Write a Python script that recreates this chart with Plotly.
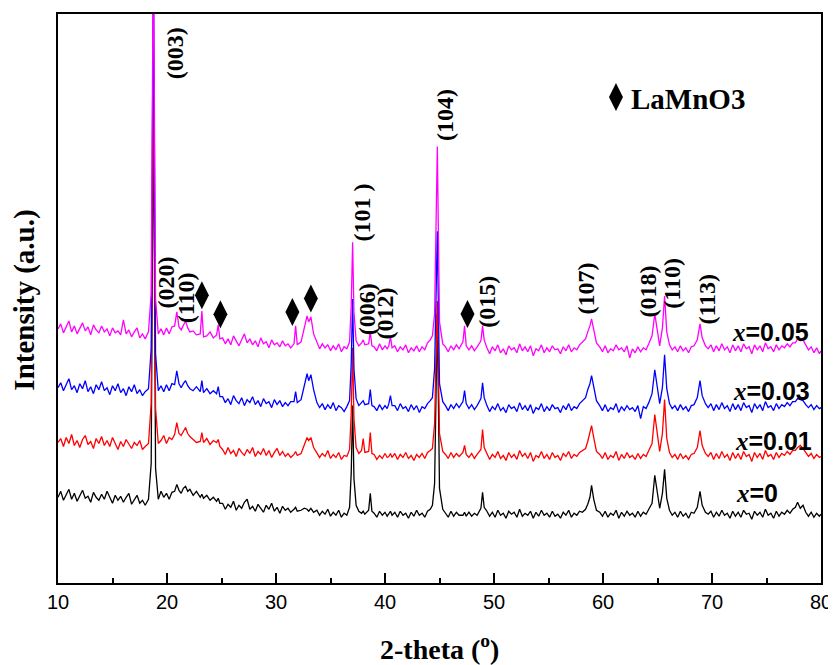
import plotly.graph_objects as go

# ---- data (2-theta in degrees, intensity in a.u. with stacking offsets) ----
two_theta = [
    10.0, 10.25, 10.5, 10.75, 11.0, 11.25, 11.5, 11.75, 12.0, 12.25, 12.5, 12.75, 13.0, 13.25, 13.5, 13.75,
    14.0, 14.25, 14.5, 14.75, 15.0, 15.25, 15.5, 15.75, 16.0, 16.25, 16.5, 16.75, 17.0, 17.25, 17.5, 17.75, 18.0,
    18.3, 18.55, 18.75, 18.95, 19.2,
    19.45, 19.7, 19.95, 20.2, 20.45,
    20.7, 20.9, 21.1,
    21.3, 21.5, 21.7, 21.9, 22.1,
    22.4, 22.7,
    23.05, 23.2, 23.35,
    23.65, 23.95, 24.25,
    24.55, 24.7, 24.85,
    25.1, 25.35, 25.6, 25.85, 26.1, 26.35, 26.6, 26.85, 27.1, 27.35, 27.6, 27.85, 28.1,
    28.35, 28.6, 28.85, 29.1, 29.35, 29.6, 29.85, 30.1, 30.35, 30.6, 30.85, 31.1, 31.35,
    31.65, 31.8, 31.95,
    32.3, 32.6, 32.85, 33.0, 33.2, 33.45,
    33.75, 34.0, 34.25, 34.5, 34.75, 35.0, 35.25, 35.5, 35.75, 36.0, 36.25, 36.5,
    36.75, 36.9, 37.03, 37.15, 37.35,
    37.6, 37.85, 38.0, 38.15,
    38.5, 38.65, 38.8,
    39.0, 39.25, 39.5, 39.75, 40.0, 40.2,
    40.35, 40.5, 40.65,
    40.9, 41.15, 41.4, 41.65, 41.9, 42.15, 42.4, 42.65, 42.9, 43.15, 43.4, 43.65, 43.9, 44.15,
    44.35, 44.55, 44.8, 45.0, 45.3,
    45.55, 45.8, 46.05, 46.3, 46.55, 46.8,
    47.15, 47.3, 47.45,
    47.7, 47.95, 48.2, 48.45,
    48.8, 48.95, 49.1,
    49.35, 49.6, 49.85, 50.1, 50.35, 50.6, 50.85, 51.1, 51.35, 51.6, 51.85, 52.1, 52.35, 52.6, 52.85, 53.1, 53.35, 53.6,
    53.85, 54.1, 54.35, 54.6, 54.85, 55.1, 55.35, 55.6, 55.85, 56.1, 56.35, 56.6, 56.85, 57.1, 57.35, 57.6, 57.85, 58.1,
    58.4, 58.6, 58.8, 58.95, 59.15, 59.4,
    59.7, 59.95, 60.2, 60.45, 60.7, 60.95, 61.2, 61.45, 61.7, 61.95, 62.2, 62.45, 62.7, 62.95, 63.2, 63.45, 63.7, 63.95, 64.2,
    64.5, 64.75, 65.0, 65.2, 65.45, 65.65, 65.85,
    66.1, 66.35, 66.6, 66.85, 67.1, 67.35, 67.6, 67.85, 68.1, 68.35,
    68.65, 68.9, 69.1, 69.4,
    69.65, 69.9, 70.15, 70.4, 70.65, 70.9, 71.15, 71.4, 71.65, 71.9, 72.15, 72.4, 72.65, 72.9, 73.15, 73.4,
    73.65, 73.9, 74.15, 74.4, 74.65, 74.9, 75.15, 75.4, 75.65, 75.9, 76.15, 76.4, 76.65, 76.9, 77.15, 77.4,
    77.65, 77.85, 78.1, 78.35, 78.6,
    78.85, 79.1, 79.35, 79.6, 79.85, 80.0,
]

int_x0 = [
    86, 92, 83, 89, 94, 84, 90, 82, 88, 93, 85, 87, 81, 91, 86, 83,
    89, 84, 92, 85, 80, 88, 83, 87, 81, 86, 90, 79, 84, 88, 80, 83, 78,
    84, 120, 500, 115, 84,
    92, 86, 90, 84, 91,
    92, 99, 93,
    90, 95, 97, 92, 94,
    88, 92,
    86, 89, 85,
    88, 83, 86,
    82, 85, 80,
    80, 74, 79, 76, 82, 73, 78, 75, 81, 84, 74, 77, 72,
    79, 75, 71, 78, 74, 80, 72, 76, 70, 77, 73, 75, 71,
    74, 76, 72,
    73, 75, 74, 72, 75, 71,
    73, 68, 72, 69, 74, 67, 71, 68, 73, 66, 70, 68,
    76, 110, 178, 105, 78,
    72, 70, 72, 69,
    73, 90, 72,
    70, 66, 72, 68, 71, 67,
    70, 72, 68,
    71, 66, 72, 68, 70, 65, 71, 67, 73, 68, 70, 66, 72, 74,
    78, 100, 270, 95, 74,
    70, 66, 72, 67, 71, 68,
    68, 71, 67,
    71, 67, 70, 68,
    75, 91, 76,
    72, 67, 71, 66, 73, 68, 70, 65, 72, 69, 71, 66, 74, 67, 70, 68, 72, 65,
    71, 67, 73, 68, 70, 66, 72, 67, 69, 65, 71, 68, 73, 66, 70, 68, 72, 71,
    74, 79, 86, 98, 84, 73,
    71, 67, 72, 66, 70, 68, 73, 65, 71, 67, 72, 68, 70, 66, 72, 67, 71, 69, 74,
    80, 108, 88, 75, 90, 114, 85,
    73, 68, 71, 66, 72, 67, 70, 65, 71, 70,
    76, 92, 78, 71,
    69, 72, 66, 71, 67, 73, 68, 70, 65, 72, 67, 71, 66, 73, 69, 70,
    64, 72, 68, 71, 66, 74, 68, 70, 65, 72, 67, 71, 69, 73, 70, 74,
    76, 81, 75, 78, 71,
    67, 71, 66, 70, 67, 69,
]

int_x001 = [
    141, 145, 137, 146, 140, 149, 138, 143, 136, 144, 148, 139, 142, 135, 145, 140,
    147, 138, 143, 137, 146, 139, 134, 142, 137, 144, 140, 135, 141, 138, 143, 134, 137,
    140, 180, 540, 175, 140,
    143, 148, 140, 146, 144,
    149, 161, 150,
    148, 152, 156, 150, 147,
    144, 141,
    142, 151, 141,
    145, 139, 143,
    141, 144, 137,
    134, 129, 136, 130, 133, 127, 135, 131, 128, 134, 130, 136, 127,
    132, 129, 135, 128, 133, 126, 131, 135, 128, 132, 127, 130, 126,
    129, 132, 128,
    130, 138, 146, 143, 146, 136,
    131, 126, 130, 127, 133, 125, 129, 126, 131, 124, 128, 127,
    134, 170, 236, 165, 136,
    130, 133, 145, 131,
    132, 151, 130,
    129, 124, 128, 125, 130, 126,
    127, 130, 126,
    130, 124, 129, 126, 131, 125, 128, 123, 129, 126, 130, 125, 131, 133,
    135, 160, 283, 150, 132,
    129, 125, 131, 126, 130, 127,
    131, 138, 129,
    126, 130, 125, 129,
    134, 154, 136,
    130, 124, 129, 126, 132, 125, 128, 123, 131, 126, 129, 124, 133, 127, 130, 125, 131, 122,
    128, 126, 132, 125, 129, 124, 131, 126, 128, 123, 130, 127, 132, 125, 129, 127, 131, 133,
    135, 142, 150, 158, 146, 132,
    129, 125, 131, 124, 128, 126, 132, 123, 129, 125, 131, 126, 128, 124, 130, 125, 129, 127, 133,
    140, 169, 145, 132, 150, 184, 145,
    131, 126, 129, 124, 130, 125, 128, 124, 129, 130,
    136, 153, 138, 130,
    127, 131, 124, 130, 125, 132, 126, 129, 123, 131, 125, 130, 124, 132, 127, 129,
    122, 131, 126, 130, 124, 133, 127, 129, 124, 131, 126, 130, 128, 132, 129, 133,
    133, 136, 138, 135, 131,
    127, 130, 125, 129, 126, 127,
]

int_x003 = [
    196, 201, 193, 199, 205, 194, 198, 191, 200, 195, 203, 192, 197, 190, 199, 194,
    202, 193, 196, 189, 198, 193, 200, 191, 195, 188, 197, 192, 199, 190, 194, 188, 192,
    195, 235, 620, 230, 193,
    198, 192, 199, 193, 200,
    199, 213, 200,
    196, 200, 203, 198, 195,
    193, 197,
    192, 203, 191,
    195, 190, 193,
    190, 197, 187,
    187, 181, 185, 179, 188, 183, 180, 186, 178, 184, 181, 187, 179,
    183, 177, 185, 180, 182, 176, 184, 179, 183, 177, 181, 178, 182,
    182, 192, 181,
    184, 198, 210, 203, 209, 194,
    181, 176, 180, 174, 179, 175, 181, 173, 178, 176, 172, 177,
    183, 220, 285, 215, 185,
    178, 181, 183, 179,
    180, 194, 178,
    177, 173, 179, 174, 178, 175,
    180, 188, 178,
    178, 173, 180, 175, 177, 172, 179, 174, 178, 171, 177, 175, 180, 183,
    186, 215, 353, 200, 182,
    178, 173, 179, 175, 180, 176,
    182, 193, 180,
    175, 179, 174, 178,
    185, 201, 186,
    178, 172, 177, 174, 180, 173, 176, 171, 179, 175, 177, 172, 181, 174, 178, 173, 179, 170,
    176, 174, 180, 172, 177, 173, 179, 175, 176, 171, 178, 174, 180, 173, 177, 175, 180, 183,
    186, 194, 200, 208, 196, 183,
    178, 173, 179, 172, 176, 174, 180, 171, 177, 173, 178, 174, 176, 172, 178, 165, 177, 175, 181,
    190, 214, 192, 180, 196, 229, 195,
    180, 175, 178, 173, 179, 174, 177, 172, 178, 179,
    186, 203, 188, 180,
    176, 180, 173, 179, 174, 181, 175, 178, 172, 180, 174, 179, 173, 181, 176, 178,
    171, 180, 175, 179, 173, 182, 176, 178, 173, 180, 175, 179, 177, 181, 178, 182,
    182, 185, 184, 183, 179,
    176, 179, 174, 178, 175, 176,
]

int_x005 = [
    255, 260, 251, 257, 263, 252, 258, 250, 256, 261, 253, 257, 249, 259, 254, 251,
    258, 252, 255, 248, 256, 251, 253, 249, 264, 250, 254, 247, 252, 256, 246, 250, 245,
    252, 290, 650, 285, 250,
    255, 249, 256, 250, 257,
    258, 272, 257,
    254, 258, 263, 256, 252,
    253, 249,
    250, 273, 247,
    248, 252, 246,
    249, 259, 245,
    246, 240, 245, 239, 248, 243, 238, 244, 250, 241, 245, 239, 243,
    237, 246, 240, 242, 236, 244, 239, 241, 237, 243, 238, 240, 236,
    240, 258, 239,
    242, 256, 268, 262, 267, 250,
    241, 235, 240, 236, 239, 233, 238, 234, 240, 232, 237, 235,
    242, 278, 342, 272, 243,
    238, 241, 244, 239,
    240, 252, 238,
    237, 233, 240, 234, 238, 235,
    238, 247, 236,
    238, 232, 237, 234, 239, 231, 236, 233, 238, 232, 237, 234, 241, 244,
    248, 270, 438, 262, 240,
    237, 232, 238, 234, 239, 235,
    242, 258, 238,
    234, 238, 233, 237,
    243, 258, 244,
    236, 230, 237, 233, 239, 231, 235, 229, 238, 234, 236, 231, 240, 233, 237, 232, 238, 228,
    235, 233, 239, 231, 236, 232, 238, 234, 235, 230, 237, 233, 239, 232, 236, 234, 239, 242,
    245, 252, 258, 265, 253, 241,
    237, 232, 238, 231, 235, 233, 239, 234, 236, 232, 238, 226, 235, 231, 237, 232, 236, 234, 240,
    248, 270, 250, 238, 256, 288, 252,
    239, 234, 237, 232, 238, 233, 236, 231, 237, 238,
    244, 260, 246, 238,
    235, 239, 232, 238, 233, 240, 234, 237, 231, 239, 233, 238, 232, 240, 235, 237,
    230, 239, 234, 238, 232, 241, 235, 237, 232, 239, 234, 238, 236, 240, 237, 241,
    241, 245, 243, 244, 239,
    234, 237, 231, 236, 230, 233,
]

series_labels = ["x=0", "x=0.01", "x=0.03", "x=0.05"]
series_colors = ["#000000", "#FF0000", "#0000FF", "#FF00FF"]

peak_labels = ["(003)", "(020)", "(110)", "(101 )", "(006)", "(012)",
               "(104)", "(015)", "(107)", "(018)", "(110)", "(113)"]
peak_label_x = [20.75, 19.91, 21.74, 37.88, 38.34, 40.02,
                45.50, 49.40, 58.45, 64.15, 66.37, 69.57]
peak_label_y = [531.7, 301.7, 286.7, 371.7, 274.7, 270.7,
                469.7, 282.7, 295.7, 292.7, 300.7, 284.7]

lamno3_x = [23.2, 24.9, 31.5, 33.2, 47.57]
lamno3_y = [288.7, 269.7, 272.0, 285.4, 270.0]

for arr in (int_x0, int_x001, int_x003, int_x005):
    assert len(arr) == len(two_theta), (len(arr), len(two_theta))

SERIF = "Liberation Serif, Times New Roman, serif"
SANS = "Liberation Sans, Arial, sans-serif"

# page body has an 8px margin: plot box lands at x 58..824, y 12..583
OFF = 8
FIG_W, FIG_H = 836 - OFF, 665 - OFF
ML, MR, MT, MB = 58 - OFF, 12, 12 - OFF, 82
PX0, PY0, PW, PH = 58.3, 582.7, 766, 571


def px_to_paper(px, py):
    return (px - PX0) / PW, (PY0 - py) / PH


fig = go.Figure()
for ys, name, col in zip([int_x0, int_x001, int_x003, int_x005], series_labels, series_colors):
    fig.add_trace(go.Scatter(x=two_theta, y=ys, mode="lines", name=name,
                             line=dict(color=col, width=1.3), showlegend=False))

fig.add_trace(go.Scatter(x=lamno3_x, y=lamno3_y, mode="markers",
                         marker=dict(symbol="diamond-tall", size=20, color="black"),
                         showlegend=False))
# key marker for LaMnO3
fig.add_trace(go.Scatter(x=[61.19], y=[487.7], mode="markers",
                         marker=dict(symbol="diamond-tall", size=20, color="black"),
                         showlegend=False))

annotations = []
for t, x, y in zip(peak_labels, peak_label_x, peak_label_y):
    annotations.append(dict(x=x, y=y, xref="x", yref="y", text=t, textangle=-90,
                            showarrow=False, font=dict(family=SERIF, size=24, color="black", weight="bold")))

ax, ay = px_to_paper(632, 97)
annotations.append(dict(x=ax, y=ay, xref="paper", yref="paper",
                        text="LaMnO3", xanchor="left", yanchor="middle", showarrow=False,
                        font=dict(family=SERIF, size=29, color="black", weight="bold")))

lab_px = [737, 736, 734, 733]
lab_py = [492.7, 440, 390, 330.7]
for name, px, py in zip(series_labels, lab_px, lab_py):
    txt = '<span style="font-family:Liberation Serif;font-style:italic">x</span>' + name[1:]
    ax, ay = px_to_paper(px, py)
    annotations.append(dict(x=ax, y=ay, xref="paper", yref="paper",
                            text=txt, xanchor="left", yanchor="middle", showarrow=False,
                            font=dict(family=SANS, size=25, color="black", weight="bold")))

ax, ay = px_to_paper(441.5, 647)
annotations.append(dict(x=ax, y=ay, xref="paper", yref="paper", borderpad=0,
                        text="2-theta (<sup>o</sup>)", showarrow=False, xanchor="center", yanchor="middle",
                        font=dict(family=SERIF, size=28, color="black", weight="bold")))
ax, ay = px_to_paper(25, 298.5)
annotations.append(dict(x=ax, y=ay, xref="paper", yref="paper", borderpad=0,
                        text="Intensity (a.u.)", textangle=-90, showarrow=False,
                        xanchor="center", yanchor="middle",
                        font=dict(family=SERIF, size=29, color="black", weight="bold")))

fig.update_layout(
    width=FIG_W, height=FIG_H,
    margin=dict(l=ML, r=MR, t=MT, b=MB),
    plot_bgcolor="white", paper_bgcolor="white",
    annotations=annotations,
    xaxis=dict(range=[10, 80], dtick=10, tick0=10, ticks="inside", ticklen=10, tickwidth=1.5,
               tickcolor="black", showline=True, linecolor="black", linewidth=1.5, mirror=True,
               showgrid=False, zeroline=False,
               tickfont=dict(family=SANS, size=20, color="black"),
               minor=dict(dtick=5, ticks="inside", ticklen=5, tickwidth=1.5, tickcolor="black",
                          showgrid=False)),
    yaxis=dict(range=[0, 571], showticklabels=False, ticks="", showline=True, linecolor="black",
               linewidth=1.5, mirror=True, showgrid=False, zeroline=False),
)

fig.write_html("out.html")
